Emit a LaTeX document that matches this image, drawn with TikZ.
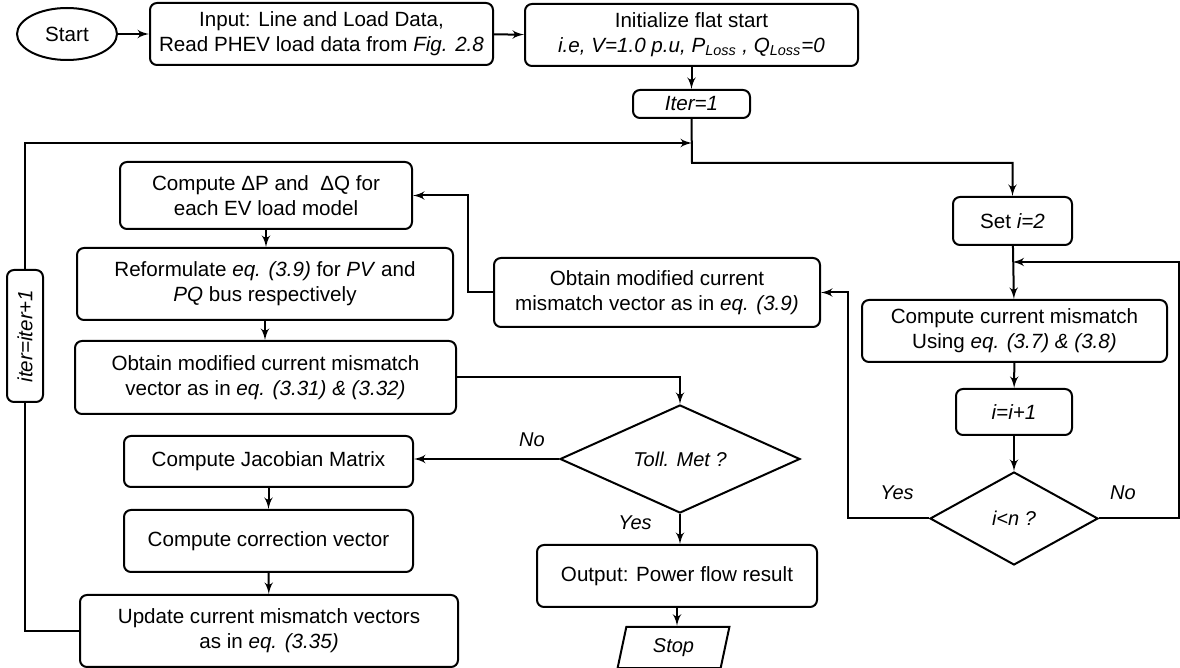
\documentclass[tikz,border=0pt]{standalone}
\usepackage{fontspec}
\setmainfont{Liberation Sans}
\usepackage{tikz}
\usetikzlibrary{arrows,shapes,positioning}
\tikzset{proc/.style ={
        draw=black,
        line width=1pt,
        rounded corners=3.5pt,
        align=center,
        inner sep=0pt,
    },
    term/.style={
        draw=black,
        line width=1pt,
        ellipse,
        inner sep=0pt,
    },
    decide/.style={
        draw=black,
        line width=1pt,
        diamond,
        inner sep=0pt,
        font=\itshape,
    },
    outbox/.style={
        draw=black,
        line width=1pt,
        trapezium,
        trapezium left angle=78,
        trapezium right angle=102,
        inner sep=0pt,
        font=\itshape,
    },
    flow/.style ={
        draw,
        line width=1pt,
        -latex',
    },
    link/.style ={
        draw,
        line width=1pt,
    },
    answer/.style = {
        font=\itshape,
    }}

\begin{document}
\begin{tikzpicture}[x=0.5pt,y=-0.5pt,every node/.style={font=\fontsize{10.3}{12.5}\selectfont}]
	\useasboundingbox (0,0) rectangle (1180,668);
	% top row
	\node[term,minimum width=50pt,minimum height=26pt] (start) at (67,34) {Start};
	\node[proc,minimum width=171.5pt,minimum height=31pt] (input) at (321.5,34) {Input: Line and Load Data,\\Read PHEV load data from \textit{Fig. 2.8}};
	\node[proc,minimum width=166.5pt,minimum height=31pt] (init) at (691.5,35) {Initialize flat start\\\textit{i.e, V=1.0 p.u, P\textsubscript{Loss} , Q\textsubscript{Loss}=0}};
	\node[proc,minimum width=58.5pt,minimum height=14pt] (iter) at (691.5,104) {\textit{Iter=1}};
	% left column
	\node[proc,minimum width=146pt,minimum height=33.5pt] (dpq) at (266,195.5) {Compute ΔP and \ ΔQ for\\each EV load model};
	\node[proc,minimum width=188pt,minimum height=36pt] (reform) at (265,284) {Reformulate \textit{eq. (3.9)} for \textit{PV} and\\\textit{PQ} bus respectively};
	\node[proc,minimum width=190.5pt,minimum height=36.5pt] (obtaina) at (265.5,377.5) {Obtain modified current mismatch\\vector as in \textit{eq. (3.31) \& (3.32)}};
	\node[proc,minimum width=144.5pt,minimum height=25.5pt] (jacob) at (268.5,461.5) {Compute Jacobian Matrix};
	\node[proc,minimum width=144.5pt,minimum height=31pt] (corr) at (268.5,541) {Compute correction vector};
	\node[proc,minimum width=189pt,minimum height=36pt] (update) at (269,631) {Update current mismatch vectors\\as in \textit{eq. (3.35)}};
	\node[proc,rotate=90,minimum width=66pt,minimum height=18pt] (iterinc) at (25,336) {\textit{iter=iter+1}};
	% middle
	\node[proc,minimum width=163pt,minimum height=34.5pt] (obtainb) at (657,292.5) {Obtain modified current\\mismatch vector as in \textit{eq. (3.9)}};
	\node[decide,minimum width=120pt,minimum height=46pt] (toll) at (680,459) {Toll. Met ?};
	\node[proc,minimum width=140pt,minimum height=31pt] (output) at (677,576) {Output: Power flow result};
	\node[outbox,minimum width=56pt,minimum height=15.5pt] (stop) at (673.5,647.5) {Stop};
	% right column
	\node[proc,minimum width=59.5pt,minimum height=24pt] (seti) at (1012.5,221) {Set \textit{i=2}};
	\node[proc,minimum width=152.5pt,minimum height=31pt] (cmis) at (1014.5,331) {Compute current mismatch\\Using \textit{eq. (3.7) \& (3.8)}};
	\node[proc,minimum width=58pt,minimum height=23pt] (iinc) at (1014,412) {\textit{i=i+1}};
	\node[decide,minimum width=84pt,minimum height=46.5pt] (iltn) at (1014,518.5) {i<n ?};
	% junctions
	\coordinate (j0) at (692,143);
	\coordinate (j1) at (692,163);
	\coordinate (j2) at (1012.5,262);
	\coordinate (rt) at (1179,262);
	\coordinate (lt) at (848,292.5);
	\coordinate (mid) at (468,195.5);
	% connectors
	\path[flow] (start) -- (input);
	\path[flow] (input) -- (init);
	\path[flow] (init) -- (iter);
	\path[flow] (iter.south) -- (j1) -| (seti.north);
	\path[flow] (seti) -- (cmis);
	\path[flow] (cmis) -- (iinc);
	\path[flow] (iinc) -- (iltn);
	\path[flow] (iltn.east) -| (rt) -- (j2);
	\path[flow] (iltn.west) -| (lt) -- (obtainb.east);
	\path[flow] (obtainb.west) -| (mid) -- (dpq.east);
	\path[flow] (dpq.south) -- (dpq.south |- reform.north);
	\path[flow] (reform.south) -- (reform.south |- obtaina.north);
	\path[flow] (obtaina.east) -| (toll.north);
	\path[flow] (toll.west) -- (toll.west -| jacob.east);
	\path[flow] (jacob) -- (corr);
	\path[flow] (corr) -- (update);
	\path[flow] (toll.south) -- (toll.south |- output.north);
	\path[flow] (output.south) -- (output.south |- stop.north);
	\path[link] (update.west) -| (iterinc.west);
	\path[flow] (iterinc.east) |- (j0);
	% answers
	\node[answer] (no1) at (532,440) {No};
	\node[answer] (yes1) at (635,523) {Yes};
	\node[answer] (yes2) at (897,493) {Yes};
	\node[answer] (no2) at (1123,493) {No};
\end{tikzpicture}
\end{document}
